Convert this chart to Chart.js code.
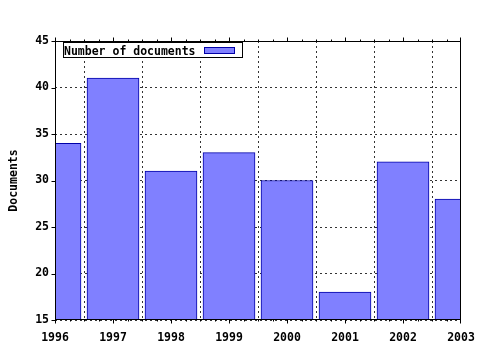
<!DOCTYPE html>
<html>
<head>
<meta charset="utf-8">
<script src="https://cdn.jsdelivr.net/npm/chart.js@4"></script>
<style>
  body { margin: 0; background: #fff; }
  canvas { display: block; }
</style>
</head>
<body>
<canvas id="docChart" width="480" height="350"></canvas>
<script>
const years = ['1996', '1997', '1998', '1999', '2000', '2001', '2002', '2003'];
const documentCounts = [34, 41, 31, 33, 30, 18, 32, 28];
const seriesLabel = 'Number of documents';
const yTicks = [15, 20, 25, 30, 35, 40, 45];

const FONT = { family: "'DejaVu Sans Mono', monospace", size: 11.5, weight: 'bold' };
const BAR_FILL = '#8080ff';
const BAR_EDGE = '#0000a8';

// frame, outward tick marks (with minor x ticks) and the in-plot legend box
const framePlugin = {
    id: 'frame',
    afterDraw(chart) {
        const ctx = chart.ctx;
        const a = chart.chartArea;
        const xs = chart.scales.x;
        const ys = chart.scales.y;
        const L = Math.round(a.left) + 0.5, R = Math.round(a.right) - 0.5;
        const T = Math.round(a.top) + 0.5, B = Math.round(a.bottom) - 0.5;
        ctx.save();
        ctx.strokeStyle = '#000';
        ctx.lineWidth = 1;
        ctx.strokeRect(L, T, R - L, B - T);

        ctx.beginPath();
        for (let i = 0; i < years.length; i++) {
            for (let q = 0; q < 4; q++) {
                const v = i + q / 4;
                if (v > years.length - 1) break;
                const px = Math.min(Math.round(xs.getPixelForValue(v)) + 0.5, R);
                const len = q === 0 ? 4 : 2;
                ctx.moveTo(px, B); ctx.lineTo(px, B + len);
                ctx.moveTo(px, T); ctx.lineTo(px, T - len);
            }
        }
        yTicks.forEach(t => {
            const py = Math.round(ys.getPixelForValue(t)) + 0.5;
            ctx.moveTo(L, py); ctx.lineTo(L - 4, py);
        });
        ctx.stroke();

        // legend
        ctx.fillStyle = '#fff';
        ctx.fillRect(63.5, 42.5, 179, 15);
        ctx.strokeRect(63.5, 42.5, 179, 15);
        ctx.fillStyle = '#000';
        ctx.font = `${FONT.weight} ${FONT.size}px ${FONT.family}`;
        ctx.textBaseline = 'alphabetic';
        ctx.textAlign = 'left';
        ctx.fillText(seriesLabel, 64, 54.5);
        ctx.fillStyle = BAR_FILL;
        ctx.fillRect(204, 47, 31, 6);
        ctx.strokeStyle = BAR_EDGE;
        ctx.strokeRect(204.5, 47.5, 30, 6);
        ctx.restore();
    }
};

new Chart(document.getElementById('docChart'), {
    type: 'bar',
    data: {
        labels: years,
        datasets: [{
            label: seriesLabel,
            data: documentCounts,
            backgroundColor: BAR_FILL,
            borderColor: BAR_EDGE,
            borderWidth: 1,
            borderSkipped: false,
            barThickness: 52,
            clip: 0
        }]
    },
    options: {
        responsive: false,
        animation: false,
        layout: { padding: { left: 0, top: 41, right: 19, bottom: 0 } },
        plugins: {
            legend: { display: false },
            tooltip: { enabled: false }
        },
        scales: {
            x: {
                offset: false,
                afterFit(scale) {
                    scale.height = 30;
                    scale.paddingLeft = 0;
                    scale.paddingRight = 0;
                },
                grid: { color: '#333', drawTicks: false },
                border: { display: false, dash: [2, 3] },
                ticks: { color: '#000', font: FONT, padding: 11, maxRotation: 0, autoSkip: false }
            },
            y: {
                min: 15,
                max: 45,
                afterFit(scale) {
                    scale.width = 55;
                    scale.paddingTop = 0;
                    scale.paddingBottom = 0;
                },
                afterBuildTicks(scale) { scale.ticks = yTicks.map(v => ({ value: v })); },
                grid: { color: '#333', drawTicks: false },
                border: { display: false, dash: [2, 3] },
                ticks: { color: '#000', font: FONT, padding: 6 },
                title: {
                    display: true,
                    text: 'Documents',
                    color: '#000',
                    font: FONT,
                    padding: { top: 7, bottom: 0 }
                }
            }
        }
    },
    plugins: [framePlugin]
});
</script>
</body>
</html>
